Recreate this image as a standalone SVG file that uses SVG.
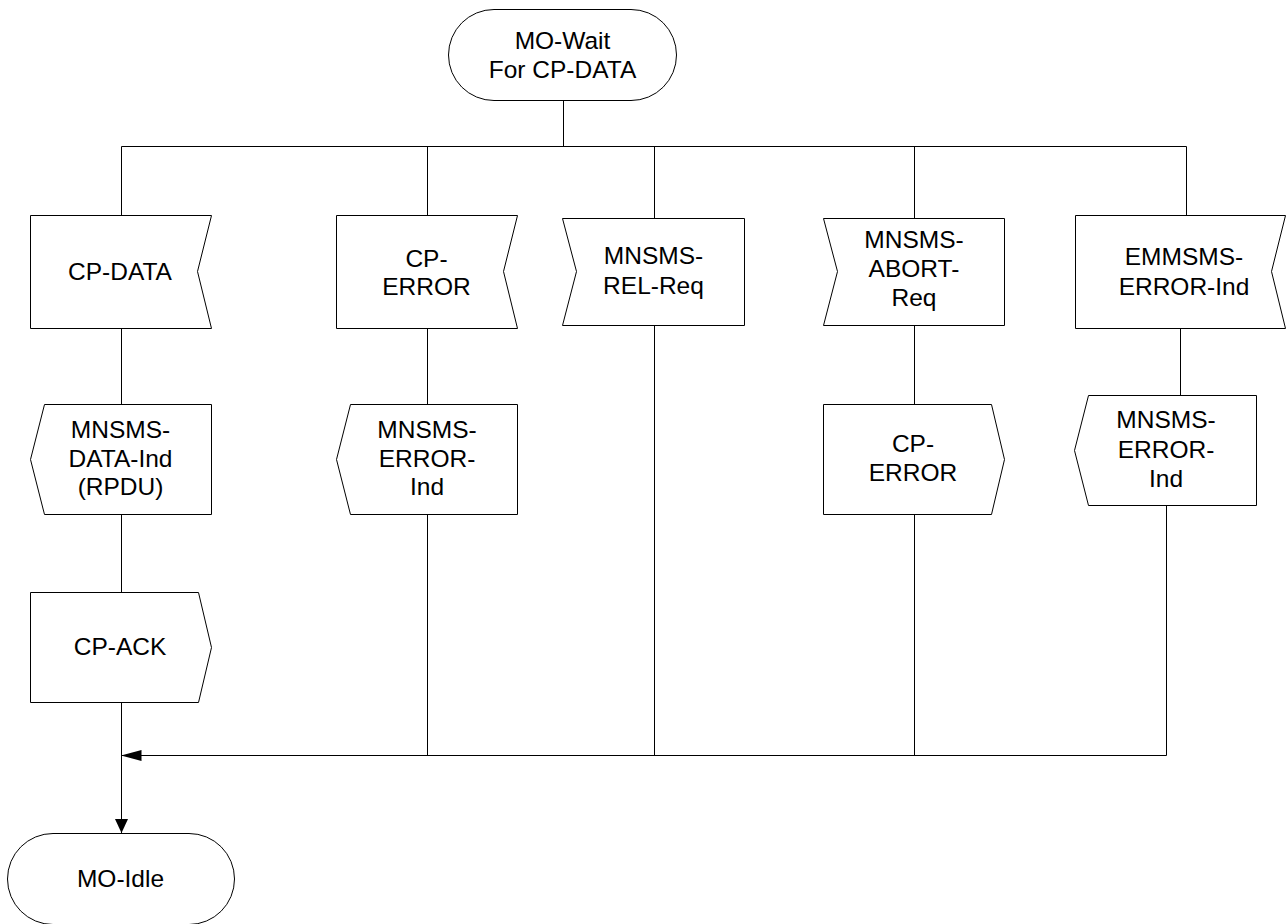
<svg xmlns="http://www.w3.org/2000/svg" width="1287" height="924" viewBox="0 0 1287 924">
<style>
  .shape { fill: #ffffff; stroke: #000000; stroke-width: 1; }
  .conn { fill: none; stroke: #000000; stroke-width: 1; }
  .lbl { font-family: "Liberation Sans", Arial, sans-serif; font-size: 24.5px; fill: #000000; text-anchor: middle; }
</style>
<defs>
  <marker id="arrowDown" markerUnits="userSpaceOnUse" markerWidth="14" markerHeight="13" refX="14" refY="6.5" orient="auto">
    <path d="M0,0 L14,6.5 L0,13 z" fill="#000000"/>
  </marker>
  <marker id="arrowLeft" markerUnits="userSpaceOnUse" markerWidth="20" markerHeight="11" refX="20" refY="5.5" orient="auto">
    <path d="M0,0 L20,5.5 L0,11 z" fill="#000000"/>
  </marker>
</defs>
<rect x="0" y="0" width="1287" height="924" fill="#ffffff"/>

<g id="connectors">
  <path class="conn" d="M563.5,100 V146.5"/>
  <path class="conn" d="M121.5,146.5 H1186.5"/>
  <path class="conn" d="M121.5,146.5 V215"/>
  <path class="conn" d="M427.5,146.5 V215"/>
  <path class="conn" d="M654.5,146.5 V218"/>
  <path class="conn" d="M914.5,146.5 V218"/>
  <path class="conn" d="M1186.5,146.5 V215"/>
  <path class="conn" d="M121.5,328 V404"/>
  <path class="conn" d="M121.5,514 V592"/>
  <path class="conn" d="M121.5,702 V833" marker-end="url(#arrowDown)"/>
  <path class="conn" d="M427.5,328 V404"/>
  <path class="conn" d="M427.5,514 V755.5"/>
  <path class="conn" d="M654.5,325 V755.5"/>
  <path class="conn" d="M914.5,325 V404"/>
  <path class="conn" d="M914.5,514 V755.5"/>
  <path class="conn" d="M1180.5,328 V395"/>
  <path class="conn" d="M1166.5,505 V755.5 H121.5" marker-end="url(#arrowLeft)"/>
</g>

<g id="state-mo-wait">
  <rect class="shape" x="448.5" y="9.5" width="228" height="91" rx="45.5" ry="45.5"/>
  <text class="lbl" x="562.5" y="49">MO-Wait</text>
  <text class="lbl" x="562.5" y="78">For CP-DATA</text>
</g>

<g id="in-cp-data">
  <polygon class="shape" points="30.5,215.5 211.5,215.5 197.5,271.5 211.5,328.5 30.5,328.5"/>
  <text class="lbl" x="120" y="280">CP-DATA</text>
</g>

<g id="in-cp-error">
  <polygon class="shape" points="336.5,215.5 517.5,215.5 503.5,271.5 517.5,328.5 336.5,328.5"/>
  <text class="lbl" x="426.5" y="267">CP-</text>
  <text class="lbl" x="426.5" y="295">ERROR</text>
</g>

<g id="in-mnsms-rel-req">
  <polygon class="shape" points="562.5,218.5 744.5,218.5 744.5,325.5 562.5,325.5 576.5,271.5"/>
  <text class="lbl" x="653.5" y="264">MNSMS-</text>
  <text class="lbl" x="653.5" y="294">REL-Req</text>
</g>

<g id="in-mnsms-abort-req">
  <polygon class="shape" points="823.5,218.5 1004.5,218.5 1004.5,325.5 823.5,325.5 837.5,271.5"/>
  <text class="lbl" x="914" y="248">MNSMS-</text>
  <text class="lbl" x="914" y="277">ABORT-</text>
  <text class="lbl" x="914" y="306">Req</text>
</g>

<g id="in-emmsms-error-ind">
  <polygon class="shape" points="1075.5,215.5 1285.5,215.5 1271.5,271.5 1285.5,328.5 1075.5,328.5"/>
  <text class="lbl" x="1184" y="265">EMMSMS-</text>
  <text class="lbl" x="1184" y="295">ERROR-Ind</text>
</g>

<g id="out-mnsms-data-ind">
  <polygon class="shape" points="44.5,404.5 211.5,404.5 211.5,514.5 44.5,514.5 30.5,459.5"/>
  <text class="lbl" x="120.5" y="438">MNSMS-</text>
  <text class="lbl" x="120.5" y="467">DATA-Ind</text>
  <text class="lbl" x="120.5" y="495">(RPDU)</text>
</g>

<g id="out-mnsms-error-ind-1">
  <polygon class="shape" points="350.5,404.5 517.5,404.5 517.5,514.5 350.5,514.5 336.5,459.5"/>
  <text class="lbl" x="427" y="438">MNSMS-</text>
  <text class="lbl" x="427" y="467">ERROR-</text>
  <text class="lbl" x="427" y="495">Ind</text>
</g>

<g id="out-cp-error">
  <polygon class="shape" points="823.5,404.5 991.5,404.5 1004.5,459.5 991.5,514.5 823.5,514.5"/>
  <text class="lbl" x="913" y="452">CP-</text>
  <text class="lbl" x="913" y="481">ERROR</text>
</g>

<g id="out-mnsms-error-ind-2">
  <polygon class="shape" points="1088.5,395.5 1256.5,395.5 1256.5,505.5 1088.5,505.5 1074.5,450.5"/>
  <text class="lbl" x="1166" y="428">MNSMS-</text>
  <text class="lbl" x="1166" y="458">ERROR-</text>
  <text class="lbl" x="1166" y="487">Ind</text>
</g>

<g id="out-cp-ack">
  <polygon class="shape" points="30.5,592.5 198.5,592.5 211.5,647.5 198.5,702.5 30.5,702.5"/>
  <text class="lbl" x="120" y="655">CP-ACK</text>
</g>

<g id="state-mo-idle">
  <rect class="shape" x="7.5" y="833.5" width="227" height="91" rx="45.5" ry="45.5"/>
  <text class="lbl" x="120.5" y="887">MO-Idle</text>
</g>
</svg>
